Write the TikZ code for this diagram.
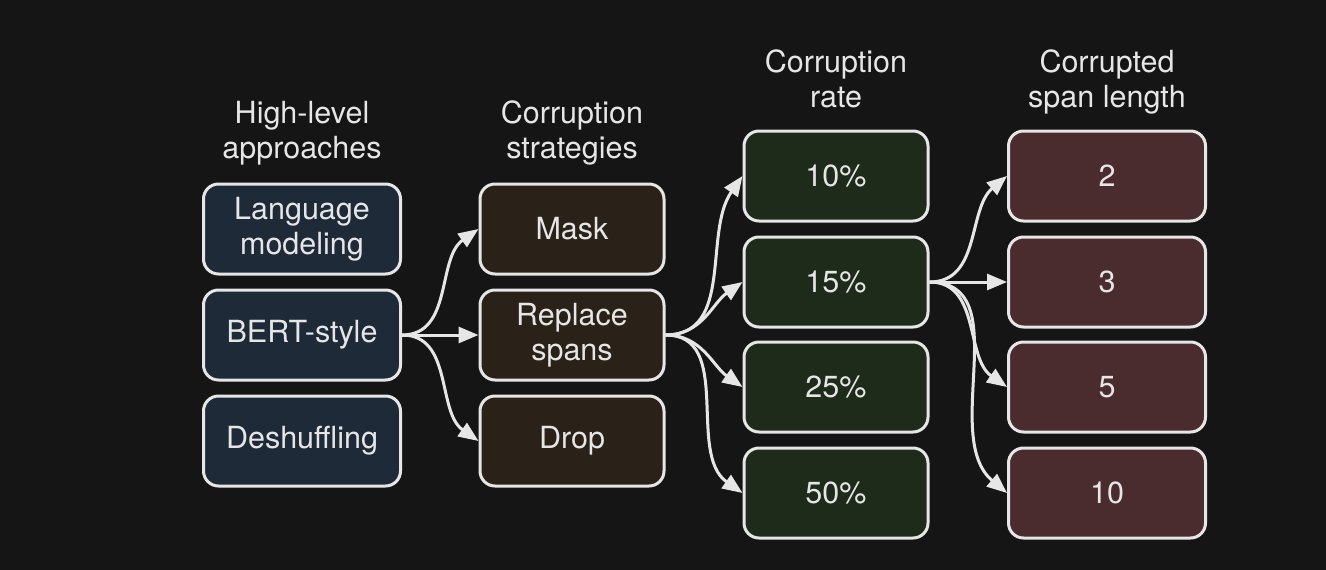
\documentclass[tikz,border=0pt]{standalone}
\usepackage{fontspec}
\setmainfont{TeX Gyre Heros}
\usetikzlibrary{arrows.meta}
\definecolor{bg}{HTML}{151515}
\definecolor{edge}{HTML}{E6E6E6}
\definecolor{approachfill}{HTML}{1E2A38}
\definecolor{strategyfill}{HTML}{2A2118}
\definecolor{ratefill}{HTML}{1E2B1A}
\definecolor{spanfill}{HTML}{4A2B2E}

\begin{document}
\begin{tikzpicture}[x=1pt, y=1pt, font=\fontsize{30.5}{35}\selectfont,
    box/.style={draw=edge, line width=3pt, rounded corners=15pt, text=edge, align=center, minimum height=90pt, inner sep=0pt},
    header/.style={text=edge, align=center, inner sep=0pt, anchor=north},
    flow/.style={draw=edge, line width=3pt, -{Triangle[length=20pt,width=16pt]}}]

    % Dark background, also fixes the page size
    \fill[bg] (0,0) rectangle (1326,-570);

    % Column headers
    \node[header] (hApproach) at (302,-101) {High-level\\approaches};
    \node[header] (hStrategy) at (572,-101) {Corruption\\strategies};
    \node[header] (hRate) at (836,-50) {Corruption\\rate};
    \node[header] (hSpan) at (1107,-50) {Corrupted\\span length};

    % High-level approaches
    \foreach \y/\name/\txt in {229/lm/{Language\\modeling}, 335/bert/BERT-style, 441/deshuf/Deshuffling} {
        \node[box, fill=approachfill, minimum width=197pt] (\name) at (302,-\y) {\txt};
    }
    % Corruption strategies
    \foreach \y/\name/\txt in {229/mask/Mask, 335/replace/{Replace\\spans}, 441/drop/Drop} {
        \node[box, fill=strategyfill, minimum width=184pt] (\name) at (572,-\y) {\txt};
    }
    % Corruption rates
    \foreach \y/\name/\txt in {176/r10/10\%, 282/r15/15\%, 387/r25/25\%, 493/r50/50\%} {
        \node[box, fill=ratefill, minimum width=184pt] (\name) at (836,-\y) {\txt};
    }
    % Span lengths
    \foreach \y/\name/\txt in {176/s2/2, 282/s3/3, 387/s5/5, 493/s10/10} {
        \node[box, fill=spanfill, minimum width=197pt] (\name) at (1107,-\y) {\txt};
    }

    % Arrows out of BERT-style
    \draw[flow] (bert.east) to[out=0, in=215] (mask.west);
    \draw[flow] (bert.east) -- (replace.west);
    \draw[flow] (bert.east) to[out=0, in=145] (drop.west);

    % Arrows out of Replace spans
    \draw[flow] (replace.east) to[out=0, in=235] (r10.west);
    \draw[flow] (replace.east) to[out=0, in=215] (r15.west);
    \draw[flow] (replace.east) to[out=0, in=145] (r25.west);
    \draw[flow] (replace.east) to[out=0, in=145] (r50.west);

    % Arrows out of 15%
    \draw[flow] (r15.east) to[out=0, in=220] (s2.west);
    \draw[flow] (r15.east) -- (s3.west);
    \draw[flow] (r15.east) to[out=0, in=145] (s5.west);
    \draw[flow] (r15.east) to[out=0, in=140] (s10.west);
\end{tikzpicture}
\end{document}
